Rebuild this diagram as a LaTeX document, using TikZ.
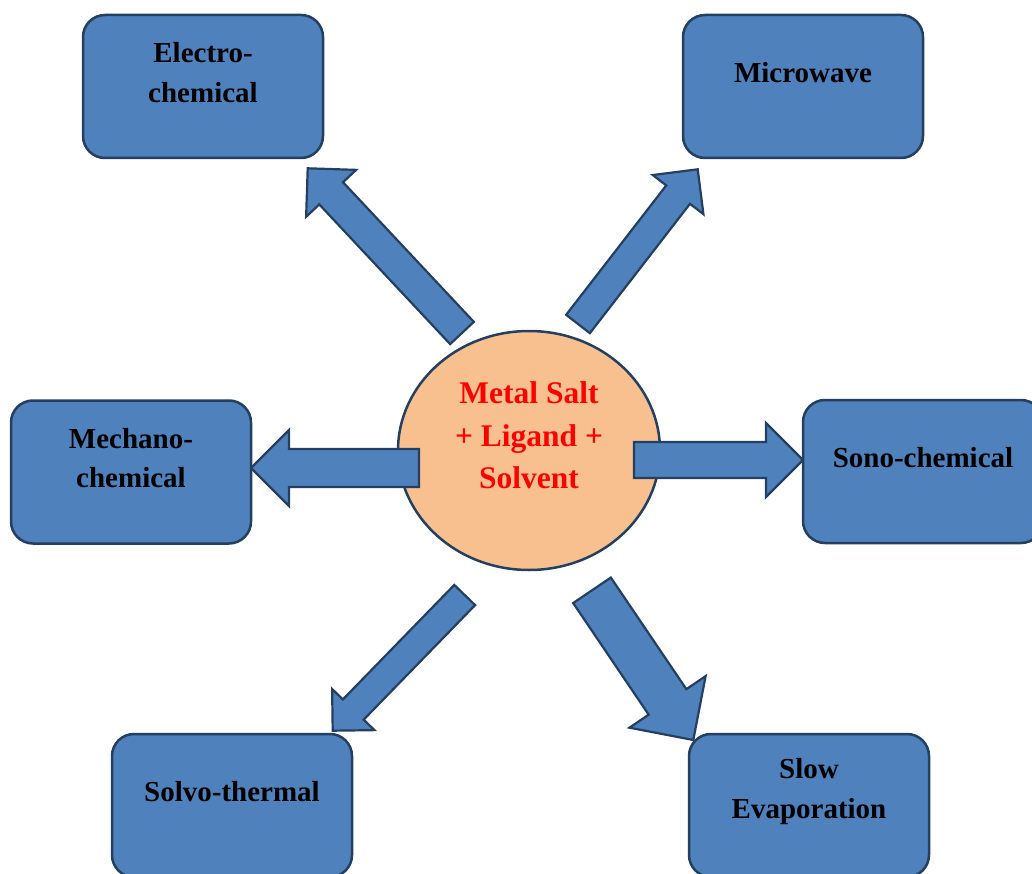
\documentclass[tikz,border=0pt]{standalone}
\usepackage{fontspec}
\setmainfont{Liberation Serif}
\usetikzlibrary{calc,shapes.geometric}
\definecolor{boxblue}{HTML}{4F81BD}
\definecolor{edgeblue}{HTML}{243F60}
\definecolor{peach}{HTML}{F9C08F}
\tikzset{
	methodbox/.style={draw=edgeblue,line width=2.5pt,fill=boxblue,rounded corners=22pt,
		minimum width=240pt,minimum height=143pt,inner sep=0pt},
	mix/.style={ellipse,draw=edgeblue,line width=2.5pt,fill=peach,
		minimum width=262pt,minimum height=239pt,inner sep=0pt},
	boxtext/.style={font=\fontsize{29}{39.5}\selectfont\bfseries,align=center,inner sep=0pt,yshift=14pt},
	mixtext/.style={font=\fontsize{31.5}{42.3}\selectfont\bfseries,text=red,align=center,inner sep=0pt,yshift=15pt},
	arrowbody/.style={draw=edgeblue,line width=2.2pt,fill=boxblue,line join=miter}
}
% block arrow: tail, tip, shaft width, head width
\newcommand{\blockarrow}[4]{%
	\draw[arrowbody] let \p1=($(#2)-(#1)$), \n1={atan2(\y1,\x1)} in
		($(#1)+(\n1+90:#3/2)$) -- ($(#2)+(\n1+180:#4/2)+(\n1+90:#3/2)$)
		-- ($(#2)+(\n1+180:#4/2)+(\n1+90:#4/2)$) -- (#2)
		-- ($(#2)+(\n1+180:#4/2)+(\n1-90:#4/2)$) -- ($(#2)+(\n1+180:#4/2)+(\n1-90:#3/2)$)
		-- ($(#1)+(\n1-90:#3/2)$) -- cycle;}
\begin{document}
\begin{tikzpicture}[x=1pt,y=-1pt]
	\useasboundingbox (0,0) rectangle (1032,874);
	% centre
	\node[mix,label={[mixtext]center:{Metal Salt\\+ Ligand +\\Solvent}}] (mix) at (529,450.5) {};
	% arrow ends
	\coordinate (ul-tail) at (462,333);   \coordinate (ul-tip) at (307.7,168.3);
	\coordinate (ur-tail) at (578,324);   \coordinate (ur-tip) at (697.7,169.3);
	\coordinate (l-tail) at (419,468);    \coordinate (l-tip) at (251,468);
	\coordinate (r-tail) at (634,460);    \coordinate (r-tip) at (803,460);
	\coordinate (ll-tail) at (464.7,595); \coordinate (ll-tip) at (332.7,730.7);
	\coordinate (lr-tail) at (592,590.3); \coordinate (lr-tip) at (693.3,740);
	\blockarrow{ul-tail}{ul-tip}{32.5pt}{68.6pt}
	\blockarrow{ur-tail}{ur-tip}{30pt}{64pt}
	\blockarrow{l-tail}{l-tip}{38pt}{76pt}
	\blockarrow{r-tail}{r-tip}{36pt}{74pt}
	\blockarrow{ll-tail}{ll-tip}{29pt}{59pt}
	\blockarrow{lr-tail}{lr-tip}{45.5pt}{92pt}
	% methods
	\node[methodbox,label={[boxtext]center:{Electro-\\chemical}}] (electro) at (203,86.5) {};
	\node[methodbox,label={[boxtext]center:Microwave}] (micro) at (803,86.5) {};
	\node[methodbox,label={[boxtext]center:{Mechano-\\chemical}}] (mechano) at (131,472) {};
	\node[methodbox,label={[boxtext]center:Sono-chemical}] (sono) at (923,471.5) {};
	\node[methodbox,label={[boxtext]center:Solvo-thermal}] (solvo) at (232,805.5) {};
	\node[methodbox,label={[boxtext]center:{Slow\\Evaporation}}] (slow) at (809,805.5) {};
\end{tikzpicture}
\end{document}
